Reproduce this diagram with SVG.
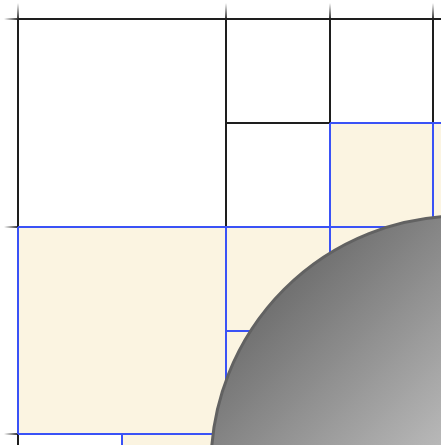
<svg xmlns="http://www.w3.org/2000/svg" width="441" height="445" viewBox="0 0 441 445">
  <defs>
    <style>
      .blk { stroke: #1e1e1e; stroke-width: 2; fill: none; }
      .blu { stroke: #3a52f6; stroke-width: 2; fill: none; }
      .bg { fill: #fbf4e1; stroke: none; }
    </style>
    <linearGradient id="tickV" x1="0" y1="0" x2="0" y2="1">
      <stop offset="0" stop-color="#333" stop-opacity="0"/>
      <stop offset="1" stop-color="#333" stop-opacity="1"/>
    </linearGradient>
    <linearGradient id="tickH" x1="0" y1="0" x2="1" y2="0">
      <stop offset="0" stop-color="#333" stop-opacity="0"/>
      <stop offset="1" stop-color="#333" stop-opacity="1"/>
    </linearGradient>
    <linearGradient id="ball" gradientUnits="userSpaceOnUse" x1="290" y1="290" x2="460" y2="460">
      <stop offset="0" stop-color="#727272"/>
      <stop offset="1" stop-color="#c0c0c0"/>
    </linearGradient>
  </defs>

  <rect width="441" height="445" fill="#ffffff"/>

  <g id="fills">
    <rect class="bg" x="330" y="123" width="111" height="104"/>
    <rect class="bg" x="18" y="227" width="423" height="207"/>
    <rect class="bg" x="122" y="434" width="319" height="11"/>
  </g>

  <g id="ticks">
    <rect x="17" y="3" width="2" height="16" fill="url(#tickV)"/>
    <rect x="225" y="3" width="2" height="16" fill="url(#tickV)"/>
    <rect x="329" y="3" width="2" height="16" fill="url(#tickV)"/>
    <rect x="432" y="3" width="2" height="16" fill="url(#tickV)"/>
    <rect x="4" y="18" width="14" height="2" fill="url(#tickH)"/>
    <rect x="4" y="226" width="14" height="2" fill="url(#tickH)"/>
    <rect x="4" y="433" width="14" height="2" fill="url(#tickH)"/>
  </g>

  <g id="connectors">
    <path class="blk" d="M18 19 H441 M18 19 V227 M226 19 V227 M330 19 V123 M433 19 V123 M226 123 H330 M18 434 V445"/>
    <path class="blu" d="M330 123 H441 M18 227 H441 M330 123 V445 M433 123 V445 M226 227 V445 M226 331 H441 M18 227 V434 M18 434 H441 M122 434 V445"/>
  </g>

  <g id="ball-node">
    <circle cx="461" cy="466" r="250" fill="url(#ball)" stroke="#626262" stroke-width="3"/>
  </g>
</svg>
